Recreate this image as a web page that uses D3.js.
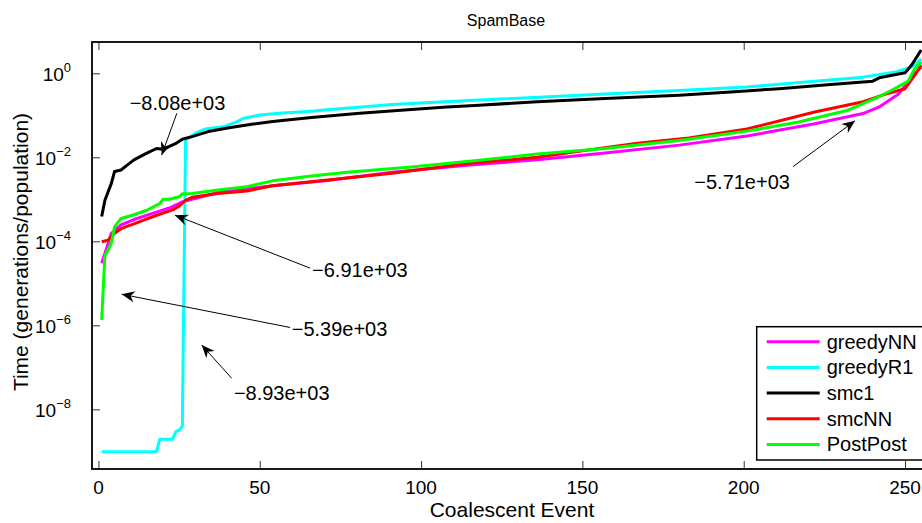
<!DOCTYPE html>
<html>
<head>
<meta charset="utf-8">
<script src="https://cdn.jsdelivr.net/npm/d3@7"></script>
<style>
  body { margin: 0; background: #fff; }
  text { font-family: "Liberation Sans", Arial, Helvetica, sans-serif; fill: #000; }
</style>
</head>
<body>
<div id="chart"></div>
<script>
// series: event number and time (generations/population)
var greedyNNEvent = [1,3,4,7,11,17,22,26,32,37,54,71,91,115,136,157,180,201,222,237,242,248,252,255];
var greedyNNTime = [3.0e-5,8.9e-5,1.55e-4,2.45e-4,3.3e-4,4.7e-4,6.2e-4,8.7e-4,1.15e-3,1.45e-3,2.1e-3,2.8e-3,4.4e-3,6.6e-3,8.7e-3,1.26e-2,1.95e-2,3.2e-2,6.3e-2,0.11,0.158,0.32,0.81,1.41];

var greedyR1Event = [1,18,19,23,24,25,26,27,30,33,39,43,45,50,56,67,71,91,118,149,183,201,211,222,237,247,252,255];
var greedyR1Time = [9.8e-10,9.8e-10,1.95e-9,1.95e-9,2.95e-9,3.2e-9,3.9e-9,2.6e-2,3.7e-2,4.7e-2,5.4e-2,7.1e-2,8.5e-2,0.102,0.112,0.126,0.135,0.18,0.23,0.30,0.40,0.47,0.55,0.65,0.81,1.07,1.41,2.2];

var smc1Event = [1,2,4,5,7,9,11,15,18,20,24,26,29,34,41,48,54,66,81,97,108,118,136,157,180,196,211,227,240,242,250,252,255];
var smc1Time = [3.9e-4,9.5e-4,2.4e-3,4.6e-3,5.0e-3,6.6e-3,8.7e-3,1.26e-2,1.62e-2,1.55e-2,2.14e-2,2.7e-2,3.1e-2,4.1e-2,5.1e-2,6.2e-2,7.1e-2,8.9e-2,0.112,0.138,0.158,0.174,0.21,0.25,0.30,0.36,0.43,0.54,0.65,0.78,1.03,1.55,3.6];

var smcNNEvent = [1,3,5,7,9,11,14,17,20,23,25,27,29,37,46,54,71,91,115,136,157,167,183,201,222,237,244,250,253,255];
var smcNNTime = [9.8e-5,1.07e-4,1.55e-4,2.0e-4,2.3e-4,2.6e-4,3.2e-4,3.9e-4,4.7e-4,5.6e-4,6.9e-4,9.5e-4,1.12e-3,1.38e-3,1.58e-3,2.1e-3,2.9e-3,4.2e-3,7.2e-3,1.0e-2,1.7e-2,2.15e-2,2.9e-2,4.7e-2,0.12,0.21,0.32,0.43,0.89,1.55];

var postPostEvent = [1,2,4,5,7,11,15,17,19,20,22,25,26,29,37,46,54,66,77,97,118,136,157,180,201,217,232,242,246,251,253,255];
var postPostTime = [1.35e-6,4.5e-5,8.9e-5,2.2e-4,3.5e-4,4.3e-4,5.5e-4,6.6e-4,7.9e-4,1.0e-3,1.0e-3,1.15e-3,1.35e-3,1.38e-3,1.66e-3,2.0e-3,2.75e-3,3.6e-3,4.4e-3,5.9e-3,8.5e-3,1.2e-2,1.62e-2,2.5e-2,4.2e-2,6.9e-2,0.13,0.28,0.40,0.65,1.29,1.86];

var seriesNames = ["greedyNN","greedyR1","smc1","smcNN","PostPost"];
var seriesColors = ["#ff00ff","#00ffff","#000000","#ff0000","#00ff00"];

var xTicks = [0,50,100,150,200,250];
var yTickExp = [-8,-6,-4,-2,0];

// annotations (text, arrow tip, arrow tail, text spot) in data units
var annotLabels = ["\u22128.08e+03","\u22126.91e+03","\u22125.39e+03","\u22128.93e+03","\u22125.71e+03"];
var annotTip = [[19.6,1.13e-2],[23.7,4.2e-4],[7.2,5.5e-6],[32.0,3.4e-7],[234.5,7.4e-2]];
var annotTail = [[24.3,0.112],[65.6,2.3e-5],[59.4,8.9e-7],[41.3,5.5e-8],[215.3,6.0e-3]];
var annotText = [[24.5,0.196],[66.2,2.1e-5],[59.9,8.1e-7],[56.8,2.5e-8],[199.5,2.6e-3]];
var annotAnchor = ["middle","start","start","middle","middle"];

var W = 922, H = 523;
var margin = {top: 42, left: 92, bottom: 54, right: -4};
var width = W - margin.left - margin.right;
var height = H - margin.top - margin.bottom;

var svg = d3.select("#chart").append("svg").attr("width", W).attr("height", H);
svg.append("defs").append("clipPath").attr("id", "plotclip")
  .append("rect").attr("width", width).attr("height", height);

var g = svg.append("g").attr("transform", "translate(" + margin.left + "," + margin.top + ")");

var x = d3.scaleLinear().domain([-2, 256.5]).range([0, width]);
var y = d3.scaleLog().domain([3.8e-10, 5.56]).range([height, 0]);

// ticks (inside, matlab style)
var yTickVals = yTickExp.map(function(e) { return Math.pow(10, e); });
g.append("g").attr("class", "axis").call(d3.axisLeft(y).tickValues(yTickVals).tickSize(-8).tickFormat(""));
g.append("g").attr("class", "axis").attr("transform", "translate(0," + height + ")")
  .call(d3.axisBottom(x).tickValues(xTicks).tickSize(-8).tickFormat(""));
g.append("g").attr("class", "axis")
  .call(d3.axisTop(x).tickValues(xTicks).tickSize(-8).tickFormat(""));
g.selectAll(".axis .domain").remove();
g.selectAll(".axis line").attr("stroke", "#333").attr("stroke-width", 1);

// x tick labels
g.selectAll(".xlab").data(xTicks).enter().append("text")
  .attr("x", function(d) { return x(d); }).attr("y", height + 25)
  .attr("text-anchor", "middle").style("font-size", "19px").text(function(d) { return d; });

// y tick labels with superscript exponent
yTickExp.forEach(function(e) {
  var t = g.append("text").attr("x", -21).attr("y", y(Math.pow(10, e)) + 8)
    .attr("text-anchor", "end").style("font-size", "19px");
  t.append("tspan").text("10");
  t.append("tspan").attr("dy", -9).style("font-size", "13px").text(e < 0 ? "\u2212" + (-e) : e);
});

// lines
var events = [greedyNNEvent, greedyR1Event, smc1Event, smcNNEvent, postPostEvent];
var times = [greedyNNTime, greedyR1Time, smc1Time, smcNNTime, postPostTime];
var line = d3.line().x(function(d) { return x(d[0]); }).y(function(d) { return y(d[1]); });
var plot = g.append("g").attr("clip-path", "url(#plotclip)");
seriesNames.forEach(function(name, i) {
  var pts = events[i].map(function(ev, j) { return [ev, times[i][j]]; });
  plot.append("path").datum(pts).attr("d", line)
    .attr("fill", "none").attr("stroke", seriesColors[i]).attr("stroke-width", 3)
    .attr("stroke-linejoin", "round");
});

// box
g.append("rect").attr("width", width).attr("height", height)
  .attr("fill", "none").attr("stroke", "#000").attr("stroke-width", 1.8);

// annotations
annotLabels.forEach(function(lab, i) {
  var tx = x(annotTip[i][0]), ty = y(annotTip[i][1]);
  var sx = x(annotTail[i][0]), sy = y(annotTail[i][1]);
  var ang = Math.atan2(ty - sy, tx - sx);
  g.append("line").attr("x1", sx).attr("y1", sy).attr("x2", tx).attr("y2", ty)
    .attr("stroke", "#000").attr("stroke-width", 1);
  var L = 13, Wd = 5.5, N = 4;
  var c = Math.cos(ang), s = Math.sin(ang);
  function pt(a, b) { return [tx + a * c - b * s, ty + a * s + b * c]; }
  var head = [pt(0, 0), pt(-L, -Wd), pt(-L + N, 0), pt(-L, Wd)];
  g.append("path").attr("d", "M" + head.join("L") + "Z").attr("fill", "#000");
  g.append("text").attr("x", x(annotText[i][0])).attr("y", y(annotText[i][1]))
    .attr("text-anchor", annotAnchor[i]).attr("dominant-baseline", "central")
    .style("font-size", "20px").text(lab);
});

// legend
var leg = g.append("g").attr("transform", "translate(" + (756.7 - margin.left) + "," + (326.7 - margin.top) + ")");
leg.append("rect").attr("width", 180).attr("height", 133.3)
  .attr("fill", "#fff").attr("stroke", "#000").attr("stroke-width", 1.5);
seriesNames.forEach(function(name, i) {
  var yy = 15 + i * 25.7;
  leg.append("line").attr("x1", 10).attr("x2", 63).attr("y1", yy).attr("y2", yy)
    .attr("stroke", seriesColors[i]).attr("stroke-width", 3);
  leg.append("text").attr("x", 70).attr("y", yy).attr("dominant-baseline", "central")
    .style("font-size", "20px").text(name);
});

// titles
svg.append("text").attr("x", 506).attr("y", 26).attr("text-anchor", "middle")
  .style("font-size", "16px").text("SpamBase");
svg.append("text").attr("x", 512).attr("y", 517).attr("text-anchor", "middle")
  .style("font-size", "21px").text("Coalescent Event");
svg.append("text").attr("transform", "translate(28,252) rotate(-90)")
  .attr("text-anchor", "middle").style("font-size", "21px").text("Time (generations/population)");
</script>
</body>
</html>
